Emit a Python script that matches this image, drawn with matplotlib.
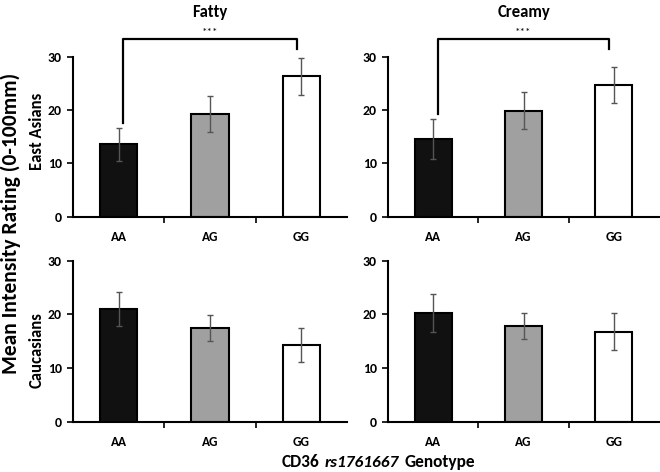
import matplotlib
matplotlib.use("Agg")
import matplotlib.pyplot as plt
import numpy as np
from matplotlib.offsetbox import TextArea, HPacker, AnchoredOffsetbox

FONT = ['Carlito', 'DejaVu Sans']
plt.rcParams['font.family'] = FONT
plt.rcParams['font.weight'] = 'bold'

genotypes = ["AA", "AG", "GG"]
tastes = ["Fatty", "Creamy"]
groups = ["East Asians", "Caucasians"]

ea_fatty = [13.6, 19.3, 26.3]
ea_fatty_err = [3.1, 3.4, 3.5]
ea_creamy = [14.6, 19.9, 24.7]
ea_creamy_err = [3.8, 3.4, 3.4]
ca_fatty = [21.0, 17.5, 14.3]
ca_fatty_err = [3.2, 2.4, 3.1]
ca_creamy = [20.3, 17.8, 16.8]
ca_creamy_err = [3.5, 2.4, 3.5]

values = [[ea_fatty, ea_creamy], [ca_fatty, ca_creamy]]
errors = [[ea_fatty_err, ea_creamy_err], [ca_fatty_err, ca_creamy_err]]

bar_colors = ["#111111", "#a0a0a0", "#ffffff"]

fig = plt.figure(figsize=(6.6, 4.72), dpi=100)
W, H = 660, 472
col_x = [(73, 347), (388, 659)]
row_y = [(56.7, 216.7), (260.7, 421.7)]
row_label_y = [131, 350]

for r in range(2):
    for c in range(2):
        x0, x1 = col_x[c]
        yt, yb = row_y[r]
        ax = fig.add_axes([x0 / W, 1 - yb / H, (x1 - x0) / W, (yb - yt) / H])
        vals = values[r][c]
        errs = errors[r][c]
        x = np.arange(3)
        ax.bar(x, vals, width=0.41, color=bar_colors, edgecolor="black",
               linewidth=1.5, zorder=2)
        ax.errorbar(x, vals, yerr=errs, fmt="none", ecolor="#555555",
                    elinewidth=1.0, capsize=2.5, capthick=1.0, zorder=3)
        ax.set_xlim(-0.5, 2.5)
        ax.set_ylim(0, 30)
        ax.set_yticks([0, 10, 20, 30])
        ax.set_yticklabels(["0", "10", "20", "30"], fontsize=10, fontweight="bold")
        ax.set_xticks(x)
        ax.set_xticklabels(genotypes, fontsize=9.5, fontweight="bold")
        ax.tick_params(axis="x", which="major", length=0, pad=10)
        ax.set_xticks([0.5, 1.5], minor=True)
        ax.tick_params(axis="x", which="minor", length=4, width=1.2, direction="out")
        ax.tick_params(axis="y", length=4, width=1.2, direction="out", pad=4)
        for s in ["top", "right"]:
            ax.spines[s].set_visible(False)
        for s in ["left", "bottom"]:
            ax.spines[s].set_linewidth(1.5)
        if c == 0:
            fig.text(37 / W, 1 - row_label_y[r] / H, groups[r], rotation=90,
                     ha="center", va="center", fontsize=12, fontweight="bold")
        if r == 0:
            fig.text((x0 + x1) / 2 / W, 1 - 12 / H, tastes[c], ha="center",
                     va="center", fontsize=12, fontweight="bold")
            # significance bracket AA vs GG
            top = 33.3
            left_end = vals[0] + errs[0] + 0.8
            right_end = 31.4
            ax.plot([0.05, 0.05, 1.95, 1.95], [left_end, top, top, right_end],
                    color="black", lw=1.6, clip_on=False, zorder=4)
            ax.text(1.0, top + 0.4, "***", ha="center", va="bottom",
                    fontsize=8, fontweight="normal")

fig.text(11 / W, 1 - 223 / H, "Mean Intensity Rating (0-100mm)", rotation=90,
         ha="center", va="center", fontsize=15.5, fontweight="bold")

# x label: "CD36 rs1761667 Genotype" with italic middle part
props_n = dict(fontsize=12.5, fontweight="bold", family=FONT)
props_i = dict(fontsize=12.5, fontweight="bold", fontstyle="italic", family=FONT)
pack = HPacker(children=[TextArea("CD36", textprops=props_n),
                         TextArea("rs1761667", textprops=props_i),
                         TextArea("Genotype", textprops=props_n)],
               sep=4, pad=0, align="baseline")
box = AnchoredOffsetbox(loc="center", child=pack, pad=0, borderpad=0,
                        frameon=False, bbox_to_anchor=(378 / W, 1 - 462 / H),
                        bbox_transform=fig.transFigure)
fig.add_artist(box)

fig.savefig("out.png", dpi=100)
